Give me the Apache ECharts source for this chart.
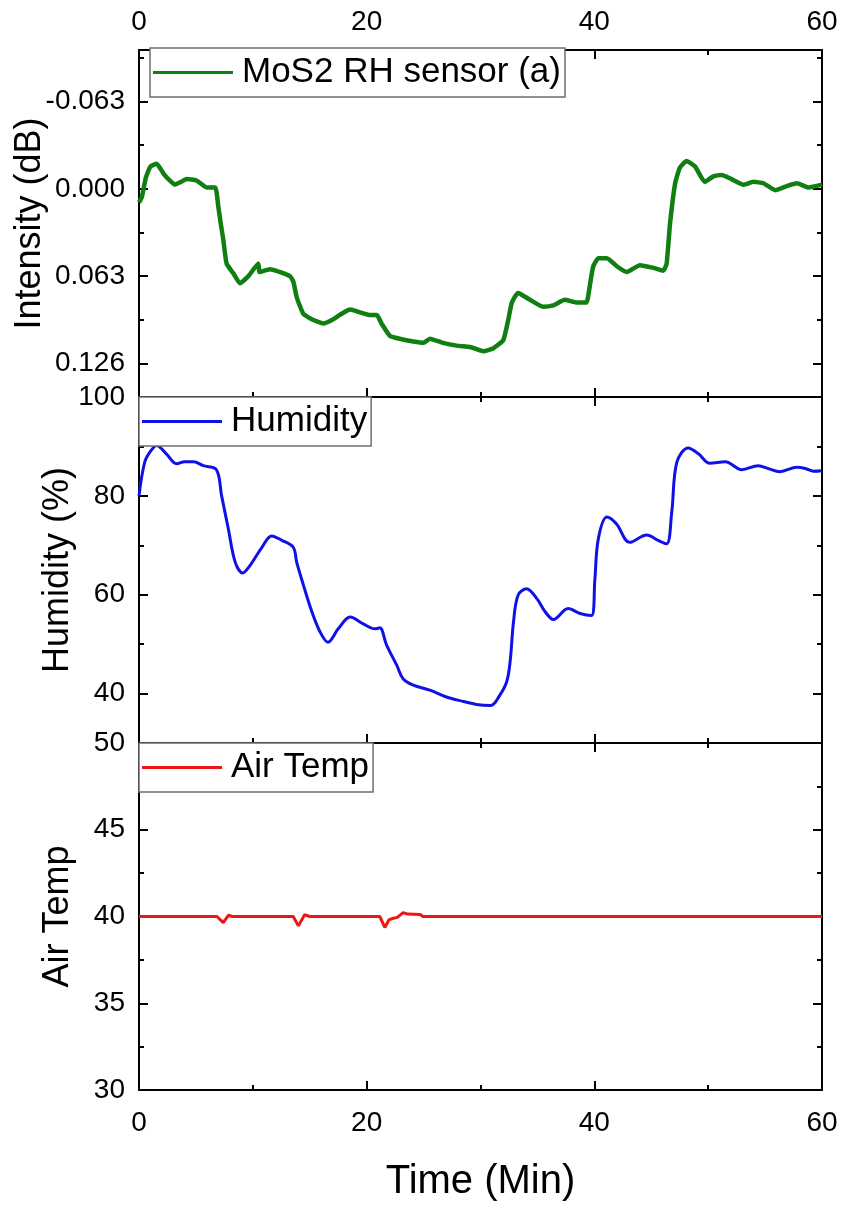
<!DOCTYPE html>
<html>
<head>
<meta charset="utf-8">
<title>MoS2 RH sensor, humidity and air temperature</title>
<script src="https://cdn.jsdelivr.net/npm/echarts@6/dist/echarts.min.js"></script>
<style>
  html, body { margin: 0; padding: 0; background: #fff; }
  #chart { width: 845px; height: 1210px; }
</style>
</head>
<body>
<div id="chart"></div>
<script>
// ---- Sensor response (Intensity, dB; plotted on an inverted axis) ----
const sensorTime = [0, 0.25, 0.6, 1.0, 1.55, 2.15, 2.7, 3.15, 3.7, 4.2, 5.05, 5.95, 6.7, 6.97, 7.2,
  7.41, 7.7, 8.3, 8.87, 9.6, 10.48, 10.6, 11.5, 12.4, 13.27, 13.56, 13.85, 14.43, 15.17, 16.2,
  17.07, 17.8, 18.55, 19.4, 20.3, 20.9, 21.3, 22.05, 22.9, 24.1, 25.0, 25.55, 26.7, 27.9, 29.1,
  30.25, 31.1, 32.0, 32.45, 32.75, 33.3, 34.35, 35.5, 36.4, 37.4, 38.45, 39.3, 39.6, 39.9, 40.35,
  41.1, 42.0, 42.85, 44.0, 45.2, 46.05, 46.35, 46.65, 47.1, 47.5, 48.1, 48.85, 49.7, 50.45, 51.2,
  52.05, 53.1, 54.0, 54.85, 55.9, 56.9, 57.8, 58.8, 60.0];
const sensorIntensity = [0.010, 0.006, -0.008, -0.016, -0.018, -0.011, -0.006, -0.003, -0.005, -0.007,
  -0.006, -0.001, -0.001, 0.013, 0.026, 0.037, 0.054, 0.061, 0.068, 0.063, 0.054, 0.060, 0.058, 0.060,
  0.063, 0.067, 0.078, 0.090, 0.094, 0.097, 0.094, 0.090, 0.087, 0.089, 0.091, 0.091, 0.097, 0.106,
  0.108, 0.110, 0.111, 0.108, 0.111, 0.113, 0.114, 0.117, 0.115, 0.109, 0.094, 0.082, 0.075, 0.080,
  0.085, 0.084, 0.080, 0.082, 0.082, 0.070, 0.056, 0.050, 0.050, 0.056, 0.060, 0.055, 0.057, 0.059,
  0.054, 0.025, -0.004, -0.015, -0.020, -0.016, -0.005, -0.009, -0.010, -0.007, -0.003, -0.005,
  -0.004, 0.001, -0.002, -0.004, -0.001, -0.003];

// ---- Relative humidity (%) ----
const humidityTime = [0, 0.5, 1.0, 1.55, 2.4, 3.3, 4.0, 4.8, 5.65, 6.8, 7.25, 7.85, 8.45, 9.1, 9.75,
  10.8, 11.65, 12.55, 13.55, 13.85, 14.45, 15.15, 15.9, 16.6, 17.5, 18.55, 19.7, 20.75, 21.15, 21.75,
  22.65, 23.2, 24.1, 25.55, 27.0, 28.5, 29.65, 30.9, 31.7, 32.3, 32.6, 32.9, 33.3, 34.05, 34.95,
  35.7, 36.4, 37.7, 38.75, 39.75, 40.05, 40.35, 41.1, 41.95, 43.1, 44.6, 45.6, 46.35, 46.8, 47.25,
  48.25, 49.15, 50.15, 51.5, 52.95, 54.4, 55.3, 56.3, 57.8, 58.6, 59.25, 60.0];
const humidityValue = [80.0, 86.8, 89.0, 90.2, 88.5, 86.5, 86.9, 86.9, 86.1, 85.3, 80.1, 73.3, 66.6,
  64.4, 65.9, 69.6, 71.9, 71.0, 69.6, 66.6, 61.9, 56.8, 52.5, 50.4, 53.1, 55.5, 54.1, 53.1, 53.3,
  49.8, 45.7, 43.0, 41.7, 40.7, 39.3, 38.4, 37.8, 37.6, 39.7, 42.4, 46.4, 54.5, 59.9, 61.2, 59.2,
  56.5, 55.0, 57.2, 56.2, 55.8, 63.2, 71.3, 75.7, 74.3, 70.6, 72.1, 71.0, 70.3, 76.7, 86.8, 89.7,
  88.5, 86.6, 86.9, 85.3, 86.1, 85.5, 84.9, 85.8, 85.5, 85.0, 85.1];

// ---- Air temperature ----
const airTime = [0, 6.85, 7.4, 7.85, 8.2, 9.5, 9.6, 9.7, 13.55, 14.0, 14.55, 15.0, 21.15, 21.6, 21.95,
  22.35, 22.7, 23.2, 23.6, 24.7, 24.95, 33.3, 33.4, 33.5, 40.4, 40.5, 40.6, 60];
const airTemp = [40, 40, 39.65, 40.07, 40, 40, 40.04, 40, 40, 39.46, 40.1, 40, 40, 39.37, 39.8,
  39.9, 39.95, 40.22, 40.14, 40.12, 40, 40, 40.08, 40, 40, 40.05, 40, 40];

// ---- Axis ticks ----
const timeTicks = { min: 0, max: 60, interval: 20 };
const intensityMajor = [-0.063, 0, 0.063, 0.126];
const intensityMinor = [-0.0945, -0.0315, 0.0315, 0.0945];
const humidityMajor = [40, 60, 80, 100];
const humidityMinor = [50, 70, 90];

const seriesNames = ['MoS2 RH sensor (a)', 'Humidity', 'Air Temp'];

const FONT = "'Liberation Sans', Arial, Helvetica, sans-serif";
const BLACK = '#000';
const panels = [
  { top: 50, height: 347 },
  { top: 397, height: 346 },
  { top: 743, height: 347 }
];
const plotLeft = 139, plotRight = 23;

const pair = (xs, ys) => xs.map((x, i) => [x, ys[i]]);

// three panels, plus three identical overlay grids for the short intermediate ticks
const grids = panels.concat(panels).map(p => ({
  left: plotLeft, right: plotRight, top: p.top, height: p.height,
  containLabel: false, outerBoundsMode: 'none'
}));

function timeAxis(gridIndex, position, showLabels, extra) {
  return Object.assign({
    type: 'value', gridIndex, position,
    min: timeTicks.min, max: timeTicks.max, interval: timeTicks.interval,
    axisLine: { show: true, onZero: false, lineStyle: { color: BLACK, width: 2 } },
    axisTick: { show: true, inside: true, length: 9, lineStyle: { color: BLACK, width: 2 } },
    minorTick: { show: true, splitNumber: 2, length: 5, lineStyle: { color: BLACK, width: 2 } },
    splitLine: { show: false }, minorSplitLine: { show: false },
    axisLabel: { show: showLabels, margin: position === 'top' ? 14 : 19,
      fontSize: 28, color: BLACK, fontFamily: FONT }
  }, extra || {});
}

function valueAxis(gridIndex, position, base) {
  return Object.assign({
    type: 'value', gridIndex, position, nameMoveOverlap: false,
    axisLine: { show: true, onZero: false, lineStyle: { color: BLACK, width: 2 } },
    splitLine: { show: false }
  }, base);
}

const labelStyle = { fontSize: 28, color: BLACK, fontFamily: FONT, margin: 14 };
const nameStyle = { fontSize: 36, color: BLACK, fontFamily: FONT };
const majorTick = { show: true, inside: true, length: 9, lineStyle: { color: BLACK, width: 2 } };
const minorTickStyle = { show: true, inside: true, length: 5, lineStyle: { color: BLACK, width: 2 } };

function intensityAxis(position, withLabels) {
  return valueAxis(0, position, {
    inverse: true, min: -0.1, max: 0.15,
    name: withLabels ? 'Intensity (dB)' : '', nameLocation: 'middle', nameGap: 91,
    nameTextStyle: nameStyle,
    axisTick: Object.assign({ customValues: intensityMajor }, majorTick),
    axisLabel: Object.assign({ show: withLabels, customValues: intensityMajor,
      formatter: v => Number(v).toFixed(3) }, labelStyle)
  });
}
function humidityAxis(position, withLabels) {
  return valueAxis(1, position, {
    min: 30, max: 100,
    name: withLabels ? 'Humidity (%)' : '', nameLocation: 'middle', nameGap: 63,
    nameTextStyle: nameStyle,
    axisTick: Object.assign({ customValues: humidityMajor }, majorTick),
    axisLabel: Object.assign({ show: withLabels, customValues: humidityMajor }, labelStyle)
  });
}
function tempAxis(position, withLabels) {
  return valueAxis(2, position, {
    min: 30, max: 50, interval: 5,
    name: withLabels ? 'Air Temp' : '', nameLocation: 'middle', nameGap: 63,
    nameTextStyle: nameStyle,
    axisTick: majorTick,
    minorTick: { show: true, splitNumber: 2, length: 5, lineStyle: { color: BLACK, width: 2 } },
    axisLabel: Object.assign({ show: withLabels }, labelStyle)
  });
}
// overlay axes carrying only the short intermediate ticks
function minorAxis(gridIndex, position, base, ticks) {
  return Object.assign({
    type: 'value', gridIndex, position,
    axisLine: { show: false, onZero: false },
    splitLine: { show: false },
    axisLabel: { show: false },
    axisTick: Object.assign({ customValues: ticks }, minorTickStyle)
  }, base);
}

const xAxes = [
  timeAxis(0, 'bottom', false),
  timeAxis(0, 'top', true),
  timeAxis(1, 'bottom', false),
  timeAxis(1, 'top', false),
  timeAxis(2, 'bottom', true, {
    name: 'Time (Min)', nameLocation: 'middle', nameGap: 72, nameMoveOverlap: false,
    nameTextStyle: { fontSize: 40, color: BLACK, fontFamily: FONT }
  }),
  timeAxis(2, 'top', false),
  { type: 'value', gridIndex: 3, min: 0, max: 60, show: false },
  { type: 'value', gridIndex: 4, min: 0, max: 60, show: false }
];

const yAxes = [
  intensityAxis('left', true),     // 0
  intensityAxis('right', false),   // 1
  humidityAxis('left', true),      // 2
  humidityAxis('right', false),    // 3
  tempAxis('left', true),          // 4
  tempAxis('right', false),        // 5
  minorAxis(3, 'left', { inverse: true, min: -0.1, max: 0.15 }, intensityMinor),
  minorAxis(3, 'right', { inverse: true, min: -0.1, max: 0.15 }, intensityMinor),
  minorAxis(4, 'left', { min: 30, max: 100 }, humidityMinor),
  minorAxis(4, 'right', { min: 30, max: 100 }, humidityMinor)
];

const legendBase = {
  orient: 'horizontal', icon: 'rect', itemWidth: 80, itemHeight: 3, itemGap: 0,
  backgroundColor: '#fff', borderColor: '#6e6e6e', borderWidth: 1.5, borderRadius: 0,
  padding: [4, 4, 4, 3], selectedMode: false, z: 10,
  textStyle: { fontSize: 35, color: BLACK, fontFamily: FONT, lineHeight: 41, padding: [0, 0, 0, 4] }
};

const option = {
  animation: false,
  backgroundColor: '#fff',
  grid: grids,
  xAxis: xAxes,
  yAxis: yAxes,
  legend: [
    Object.assign({ left: 150, top: 48, data: [seriesNames[0]] }, legendBase),
    Object.assign({ left: 139, top: 397, data: [seriesNames[1]] }, legendBase),
    Object.assign({ left: 139, top: 743, data: [seriesNames[2]] }, legendBase)
  ],
  series: [
    {
      name: seriesNames[0], type: 'line', xAxisIndex: 0, yAxisIndex: 0,
      data: pair(sensorTime, sensorIntensity), showSymbol: false, smooth: 0.15,
      lineStyle: { color: '#0f7f12', width: 4.5 }, itemStyle: { color: '#0f7f12' }
    },
    {
      name: seriesNames[1], type: 'line', xAxisIndex: 2, yAxisIndex: 2,
      data: pair(humidityTime, humidityValue), showSymbol: false, smooth: 0.35,
      lineStyle: { color: '#1010e8', width: 3 }, itemStyle: { color: '#1010e8' }
    },
    {
      name: seriesNames[2], type: 'line', xAxisIndex: 4, yAxisIndex: 4,
      data: pair(airTime, airTemp), showSymbol: false,
      lineStyle: { color: '#f01414', width: 3 }, itemStyle: { color: '#f01414' }
    }
  ]
};

const chart = echarts.init(document.getElementById('chart'), null, { renderer: 'canvas' });
chart.setOption(option);
</script>
</body>
</html>
